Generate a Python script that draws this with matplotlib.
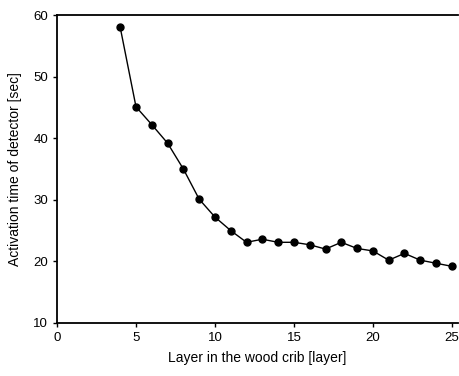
import numpy as np
import matplotlib
matplotlib.use("Agg")
import matplotlib.pyplot as plt

plt.rcParams['font.family'] = ['Liberation Sans', 'DejaVu Sans']

"DATA"
layer = [4, 5, 6, 7, 8, 9, 10, 11, 12, 13, 14, 15, 16, 17, 18, 19, 20, 21, 22, 23, 24, 25]
t_act = [58.0, 45.1, 42.2, 39.2, 35.0, 30.1, 27.2, 25.0, 23.1, 23.6, 23.1, 23.1, 22.7, 22.0,
         23.1, 22.1, 21.7, 20.2, 21.3, 20.2, 19.7, 19.2]
xticks = [0, 5, 10, 15, 20, 25]
yticks = [10, 20, 30, 40, 50, 60]

"PLOT"
fig = plt.figure(figsize=(4.6, 3.76), dpi=100)
ax = fig.add_axes([0.124, 0.141, 0.872, 0.819])

ax.plot(layer, t_act, color="black", lw=1.0, marker="o", ms=5,
        mfc="black", mec="black")

ax.set_xlim(0, 25.4)
ax.set_ylim(10, 60)
ax.set_xticks(xticks)
ax.set_yticks(yticks)
ax.spines["right"].set_visible(False)
for s in ["left", "bottom", "top"]:
    ax.spines[s].set_linewidth(1.3)
ax.tick_params(direction="out", length=3, width=1, labelsize=9.5)

ax.set_xlabel("Layer in the wood crib [layer]", fontsize=10, labelpad=5)
ax.set_ylabel("Activation time of detector [sec]", fontsize=10, labelpad=8)

fig.savefig("out.png", dpi=100)
